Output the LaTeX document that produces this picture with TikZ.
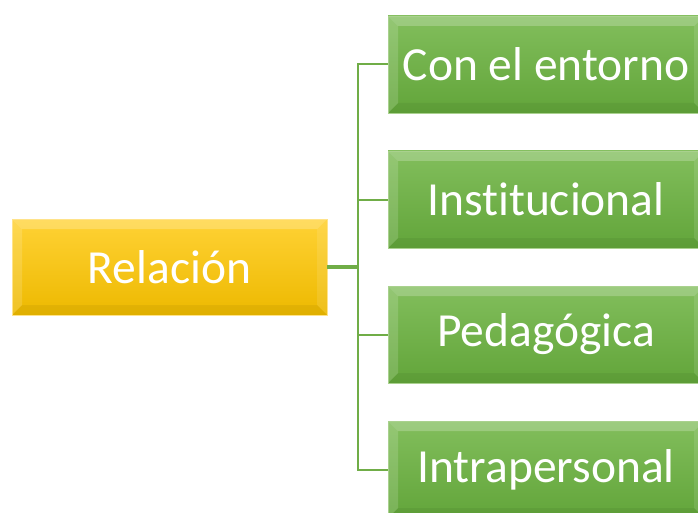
\documentclass[tikz,border=0pt]{standalone}
\usepackage{fontspec}
\setmainfont[Ligatures=NoCommon]{Carlito}
\usetikzlibrary{calc}
\definecolor{gtop}{HTML}{82BE5C}
\definecolor{gbot}{HTML}{62A53A}
\definecolor{gline}{HTML}{70AD47}
\definecolor{gedge}{HTML}{A9D18E}
\definecolor{ytop}{HTML}{FFD235}
\definecolor{ybot}{HTML}{EDB900}
\definecolor{yedge}{HTML}{FFE38A}
\tikzset{
  bevel/.style={path picture={
    \coordinate (nw) at (path picture bounding box.north west);
    \coordinate (ne) at (path picture bounding box.north east);
    \coordinate (sw) at (path picture bounding box.south west);
    \coordinate (se) at (path picture bounding box.south east);
    \fill[white,opacity=0.22] (nw) -- (ne) -- ($(ne)+(-10pt,-10pt)$) -- ($(nw)+(10pt,-10pt)$) -- cycle;
    \fill[white,opacity=0.15] (nw) -- ($(nw)+(10pt,-10pt)$) -- ($(sw)+(10pt,10pt)$) -- (sw) -- cycle;
    \fill[white,opacity=0.10] (ne) -- ($(ne)+(-10pt,-10pt)$) -- ($(se)+(-10pt,10pt)$) -- (se) -- cycle;
    \fill[black,opacity=0.05] (sw) -- ($(sw)+(10pt,10pt)$) -- ($(se)+(-10pt,10pt)$) -- (se) -- cycle;
  }},
  boxbase/.style={rectangle, inner sep=0pt, text=white,
    font=\fontsize{47.5}{52}\selectfont, line width=0.8pt, bevel},
  ybox/.style={boxbase, minimum width=315pt, minimum height=96pt,
    top color=ytop, bottom color=ybot, draw=yedge},
  gbox/.style={boxbase, minimum width=316pt, minimum height=97pt,
    top color=gtop, bottom color=gbot, draw=gedge},
  conn/.style={draw=gline, line width=2pt},
  connthick/.style={draw=gline, line width=4pt}
}
\begin{document}
\begin{tikzpicture}[x=1pt,y=1pt]
\useasboundingbox (0,0) rectangle (698,-513);
\clip (0,0) rectangle (698,-513);
\fill[white] (0,0) rectangle (698,-513);
\node[ybox] (rel) at (169.5,-267) {Relación};
\node[gbox] (g1) at (546,-64.5) {Con el entorno};
\node[gbox] (g2) at (546,-199.5) {Institucional};
\node[gbox] (g3) at (546,-334.5) {Pedagógica};
\node[gbox] (g4) at (546,-469.5) {Intrapersonal};
\coordinate (j) at (358,-267);
\draw[connthick] (rel.east) -- (j);
\draw[conn] (j) |- (g1.west);
\draw[conn] (j) |- (g2.west);
\draw[conn] (j) |- (g3.west);
\draw[conn] (j) |- (g4.west);
\end{tikzpicture}
\end{document}
